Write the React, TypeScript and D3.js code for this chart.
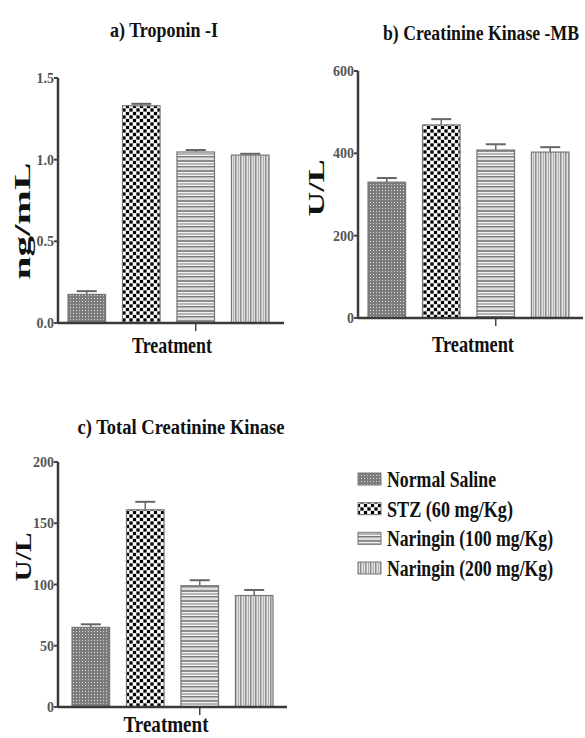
import React, { useLayoutEffect, useRef, useState } from "react";
import * as d3 from "d3";

const categories = ["Normal Saline", "STZ (60 mg/Kg)", "Naringin (100 mg/Kg)", "Naringin (200 mg/Kg)"];
const patternIds = ["pNs", "pStz", "pN100", "pN200"];

const troponin = [0.175, 1.33, 1.047, 1.028];
const troponinErr = [0.02, 0.012, 0.012, 0.008];
const troponinTicks = [0, 0.5, 1.0, 1.5];

const ckmb = [330, 469, 408, 403];
const ckmbErr = [10, 14, 14, 12];
const ckmbTicks = [0, 200, 400, 600];

const totalCk = [65, 161, 99, 91];
const totalCkErr = [2.5, 6.5, 4.5, 4.5];
const totalCkTicks = [0, 50, 100, 150, 200];

const FONT = "'Liberation Serif', 'Times New Roman', serif";

// bold serif text squeezed horizontally to a target width (the figure is stretched)
const T = ({ x, y, size, len, anchor = "middle", rotate = false, fill = "#111", children }: any) => {
  const ref = useRef<SVGTextElement>(null);
  const [k, setK] = useState(0.78);
  useLayoutEffect(() => {
    const w = ref.current ? ref.current.getComputedTextLength() : 0;
    if (w > 0) setK(len / w);
  }, [len, children, size]);
  return (
    <text
      ref={ref}
      transform={`translate(${x},${y})${rotate ? " rotate(-90)" : ""} scale(${k},1)`}
      fontFamily={FONT}
      fontWeight="bold"
      fontSize={size}
      textAnchor={anchor}
      fill={fill}
    >
      {children}
    </text>
  );
};

const Panel = ({ p }: any) => {
  const y = d3.scaleLinear().domain([0, p.max]).range([p.bottom, p.top]);
  const x = d3.scaleBand().domain(categories).range(p.band).paddingInner(0.31).paddingOuter(0);
  const bw = x.bandwidth();
  const tickX = (x(categories[2]) as number) + bw / 2;
  return (
    <g>
      <T x={p.titleX} y={p.titleY} size={22} len={p.titleLen}>{p.title}</T>
      {p.values.map((v: number, i: number) => {
        const bx = x(categories[i]) as number;
        const cx = bx + bw / 2;
        const ey = y(v + p.errs[i]);
        return (
          <g key={i}>
            <line x1={cx} x2={cx} y1={y(v)} y2={ey} stroke="#666" strokeWidth={1.5} />
            <line x1={cx - 10} x2={cx + 10} y1={ey} y2={ey} stroke="#666" strokeWidth={2} />
            <rect x={bx} y={y(v)} width={bw} height={p.bottom - y(v)} fill={`url(#${patternIds[i]})`} stroke="#777" strokeWidth={1.2} />
          </g>
        );
      })}
      <line x1={p.axisX} x2={p.axisX} y1={p.top} y2={p.bottom} stroke="#3a3a3a" strokeWidth={2.5} />
      <line x1={p.axisX} x2={p.axisEnd} y1={p.bottom} y2={p.bottom} stroke="#3a3a3a" strokeWidth={2.5} />
      <line x1={tickX} x2={tickX} y1={p.bottom} y2={p.bottom + 8} stroke="#444" strokeWidth={1.5} />
      {p.ticks.map((t: number) => (
        <g key={t}>
          <line x1={p.axisX - 4} x2={p.axisX} y1={y(t)} y2={y(t)} stroke="#444" strokeWidth={2} />
          <text x={p.axisX - 4} y={y(t) + 5} fontFamily={FONT} fontWeight="bold" fontSize={14} textAnchor="end" fill="#555">
            {p.fmt(t)}
          </text>
        </g>
      ))}
      <T x={p.ylabX} y={p.ylabY} size={23} len={p.ylabLen} rotate>{p.ylab}</T>
      <T x={p.treatX} y={p.treatY} size={24} len={p.treatLen}>Treatment</T>
    </g>
  );
};

const panels = [
  {
    title: "a) Troponin -I", titleX: 164, titleY: 37, titleLen: 108,
    values: troponin, errs: troponinErr, ticks: troponinTicks, max: 1.5, fmt: d3.format(".1f"),
    top: 78, bottom: 323, axisX: 58, axisEnd: 284, band: [68, 269],
    ylab: "ng/mL", ylabX: 30, ylabY: 221, ylabLen: 117,
    treatX: 172, treatY: 353, treatLen: 80,
  },
  {
    title: "b) Creatinine Kinase -MB", titleX: 481, titleY: 40, titleLen: 196,
    values: ckmb, errs: ckmbErr, ticks: ckmbTicks, max: 600, fmt: d3.format("d"),
    top: 71, bottom: 318, axisX: 358, axisEnd: 583, band: [368, 569],
    ylab: "U/L", ylabX: 324, ylabY: 188, ylabLen: 57,
    treatX: 473, treatY: 352, treatLen: 82,
  },
  {
    title: "c) Total Creatinine Kinase", titleX: 181, titleY: 434, titleLen: 207,
    values: totalCk, errs: totalCkErr, ticks: totalCkTicks, max: 200, fmt: d3.format("d"),
    top: 462, bottom: 707, axisX: 58, axisEnd: 287, band: [72, 273],
    ylab: "U/L", ylabX: 31, ylabY: 557, ylabLen: 49,
    treatX: 166, treatY: 732, treatLen: 85,
  },
];

const legendLens = [109, 126, 166, 166];

export default function App() {
  const legendY = d3.scalePoint().domain(categories).range([479, 568]);
  return (
    <svg width={585} height={738} style={{ position: "absolute", left: 0, top: 0, background: "#fff" }}>
      <defs>
        <pattern id="pNs" width={3} height={3} patternUnits="userSpaceOnUse">
          <rect width={3} height={3} fill="#7c7c7c" />
          <rect x={1} y={1} width={1} height={1} fill="#d8d8d8" />
        </pattern>
        <pattern id="pStz" width={7} height={7} patternUnits="userSpaceOnUse">
          <rect width={7} height={7} fill="#bdbdbd" />
          <rect x={0} y={0} width={3} height={3} fill="#000" />
          <rect x={3.5} y={3.5} width={3} height={3} fill="#000" />
          <rect x={3.5} y={0} width={3} height={3} fill="#fff" />
          <rect x={0} y={3.5} width={3} height={3} fill="#fff" />
        </pattern>
        <pattern id="pN100" width={10} height={10} patternUnits="userSpaceOnUse">
          <rect width={10} height={10} fill="#f2f2f2" />
          <rect y={0} width={10} height={2} fill="#8c8c8c" />
          <rect y={3} width={10} height={2} fill="#b5b5b5" />
          <rect y={6} width={10} height={1.5} fill="#7a7a7a" />
          <rect y={8.5} width={10} height={1} fill="#c8c8c8" />
        </pattern>
        <pattern id="pN200" width={5} height={5} patternUnits="userSpaceOnUse">
          <rect width={5} height={5} fill="#e2e2e2" />
          <rect x={0} width={1.5} height={5} fill="#8f8f8f" />
          <rect x={3} width={1} height={5} fill="#b0b0b0" />
        </pattern>
      </defs>
      {panels.map((p, i) => (
        <Panel key={i} p={p} />
      ))}
      {categories.map((c, i) => {
        const cy = legendY(c) as number;
        return (
          <g key={c}>
            <rect x={358} y={cy - 6} width={23} height={12} fill={`url(#${patternIds[i]})`} stroke="#777" strokeWidth={1} />
            <T x={387} y={cy + 8} size={24} len={legendLens[i]} anchor="start">{c}</T>
          </g>
        );
      })}
    </svg>
  );
}
